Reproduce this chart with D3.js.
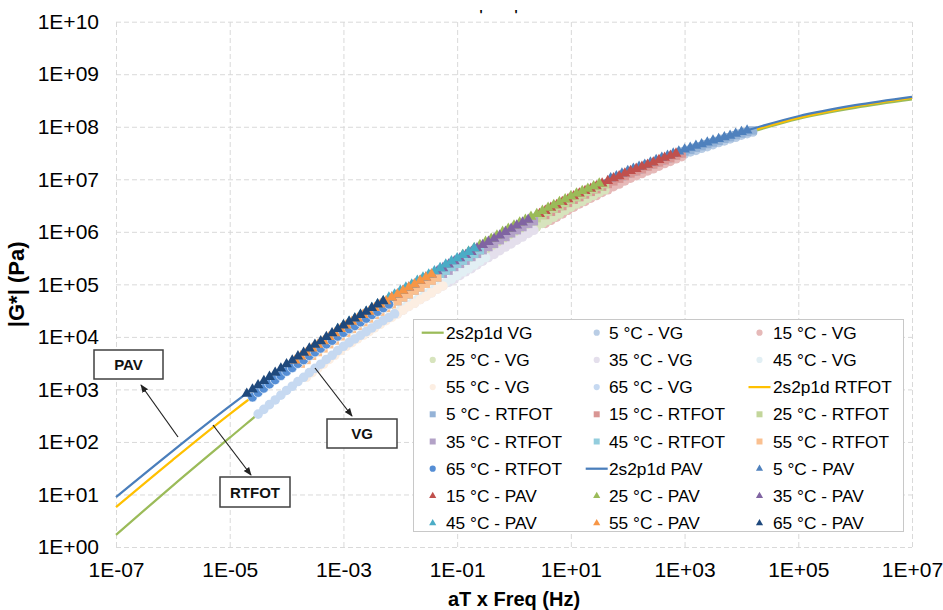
<!DOCTYPE html>
<html><head><meta charset="utf-8">
<script src="https://cdn.jsdelivr.net/npm/d3@7"></script>
<style>
body{margin:0;background:#fff;}
svg{display:block;}
text{font-family:"Liberation Sans",Arial,sans-serif;}
</style>
</head><body>
<svg id="chart" width="943" height="610"></svg>
<script>
// ---------- DATA ----------
const xTickValues = [1e-7, 1e-5, 1e-3, 1e-1, 1e1, 1e3, 1e5, 1e7];
const xTickLabels = ["1E-07","1E-05","1E-03","1E-01","1E+01","1E+03","1E+05","1E+07"];
const yTickValues = [1, 1e1, 1e2, 1e3, 1e4, 1e5, 1e6, 1e7, 1e8, 1e9, 1e10];
const yTickLabels = ["1E+00","1E+01","1E+02","1E+03","1E+04","1E+05","1E+06","1E+07","1E+08","1E+09","1E+10"];

const temps = [5, 15, 25, 35, 45, 55, 65];
// measured frequencies (Hz)
const freqHz = [0.1,0.126,0.158,0.2,0.251,0.316,0.398,0.501,0.631,0.794,1,1.26,1.58,2,2.51,3.16,3.98,5.01,6.31,7.94,10,12.6,15.8,20,25.1];
// log10 shift factors aT per temperature
const logAT_VG    = [2.8, 1.55, 0.2, -1.05, -1.9, -2.65, -3.5];
const logAT_RTFOT = [2.8, 1.55, 0.2, -1.05, -2.0, -2.75, -3.6];
const logAT_PAV   = [2.7, 1.45, 0.1, -1.15, -2.1, -2.85, -3.7];

// 2s2p1d model curves: reduced frequency (Hz) and log10 |G*| (Pa)
const modelFreq = [1e-7,1e-6,1e-5,1e-4,1e-3,1e-2,1e-1,1,1e1,1e2,1e3,1e4,1e5,1e6,1e7];
const modelLogVG    = [0.23,1.17,2.08,2.98,3.82,4.51,5.17,5.84,6.47,7.02,7.48,7.84,8.15,8.36,8.52];
const modelLogRTFOT = [0.76,1.66,2.53,3.34,4.08,4.75,5.39,6.03,6.61,7.11,7.53,7.87,8.17,8.39,8.55];
const modelLogPAV   = [0.95,1.83,2.68,3.48,4.22,4.88,5.50,6.12,6.68,7.16,7.57,7.90,8.20,8.41,8.57];

// measured log10 |G*| (Pa), one row per temperature (5..65 °C)
const logG_VG = [
 [6.91,6.97,7.02,7.07,7.11,7.16,7.20,7.25,7.30,7.34,7.39,7.43,7.48,7.52,7.55,7.59,7.62,7.66,7.70,7.73,7.77,7.80,7.84,7.87,7.90],
 [6.16,6.22,6.28,6.34,6.41,6.47,6.53,6.58,6.64,6.69,6.75,6.80,6.86,6.91,6.97,7.02,7.07,7.11,7.16,7.20,7.25,7.30,7.34,7.39,7.43],
 [5.30,5.37,5.44,5.51,5.57,5.64,5.71,5.77,5.84,5.90,5.97,6.03,6.09,6.16,6.22,6.28,6.34,6.41,6.47,6.53,6.58,6.64,6.69,6.75,6.80],
 [4.44,4.51,4.58,4.64,4.71,4.77,4.84,4.91,4.97,5.04,5.10,5.17,5.24,5.30,5.37,5.44,5.51,5.57,5.64,5.71,5.77,5.84,5.90,5.97,6.03],
 [3.89,3.96,4.03,4.10,4.17,4.24,4.31,4.37,4.44,4.51,4.58,4.64,4.71,4.77,4.84,4.91,4.97,5.04,5.10,5.17,5.24,5.30,5.37,5.44,5.51],
 [3.23,3.32,3.40,3.48,3.57,3.65,3.74,3.82,3.89,3.96,4.03,4.10,4.17,4.24,4.31,4.37,4.44,4.51,4.58,4.64,4.71,4.77,4.84,4.91,4.97],
 [2.53,2.62,2.71,2.80,2.89,2.98,3.06,3.15,3.23,3.32,3.40,3.48,3.57,3.65,3.74,3.82,3.89,3.96,4.03,4.10,4.17,4.24,4.31,4.37,4.44]
];
const logG_RTFOT = [
 [7.01,7.06,7.11,7.15,7.19,7.24,7.28,7.32,7.36,7.40,7.45,7.49,7.53,7.56,7.60,7.63,7.67,7.70,7.73,7.77,7.80,7.84,7.87,7.90,7.93],
 [6.32,6.38,6.44,6.49,6.55,6.61,6.66,6.71,6.76,6.81,6.86,6.91,6.96,7.01,7.06,7.11,7.15,7.19,7.24,7.28,7.32,7.36,7.40,7.45,7.49],
 [5.52,5.58,5.65,5.71,5.77,5.84,5.90,5.97,6.03,6.09,6.15,6.20,6.26,6.32,6.38,6.44,6.49,6.55,6.61,6.66,6.71,6.76,6.81,6.86,6.91],
 [4.68,4.75,4.81,4.88,4.94,5.01,5.07,5.13,5.20,5.26,5.33,5.39,5.45,5.52,5.58,5.65,5.71,5.77,5.84,5.90,5.97,6.03,6.09,6.15,6.20],
 [4.08,4.15,4.21,4.28,4.35,4.42,4.48,4.55,4.62,4.68,4.75,4.81,4.88,4.94,5.01,5.07,5.13,5.20,5.26,5.33,5.39,5.45,5.52,5.58,5.65],
 [3.49,3.56,3.64,3.71,3.78,3.86,3.93,4.01,4.08,4.15,4.21,4.28,4.35,4.42,4.48,4.55,4.62,4.68,4.75,4.81,4.88,4.94,5.01,5.07,5.13],
 [2.85,2.94,3.02,3.10,3.18,3.26,3.34,3.41,3.49,3.56,3.64,3.71,3.78,3.86,3.93,4.01,4.08,4.15,4.21,4.28,4.35,4.42,4.48,4.55,4.62]
];
const logG_PAV = [
 [7.02,7.06,7.11,7.16,7.20,7.24,7.28,7.32,7.37,7.41,7.45,7.49,7.53,7.57,7.60,7.64,7.67,7.70,7.74,7.77,7.80,7.83,7.87,7.90,7.93],
 [6.34,6.40,6.46,6.51,6.57,6.62,6.68,6.73,6.78,6.82,6.87,6.92,6.97,7.02,7.06,7.11,7.16,7.20,7.24,7.28,7.32,7.37,7.41,7.45,7.49],
 [5.56,5.62,5.69,5.75,5.81,5.87,5.93,6.00,6.06,6.12,6.18,6.23,6.29,6.34,6.40,6.46,6.51,6.57,6.62,6.68,6.73,6.78,6.82,6.87,6.92],
 [4.75,4.81,4.88,4.94,5.00,5.07,5.13,5.19,5.25,5.31,5.38,5.44,5.50,5.56,5.62,5.69,5.75,5.81,5.87,5.93,6.00,6.06,6.12,6.18,6.23],
 [4.15,4.22,4.29,4.35,4.42,4.48,4.55,4.62,4.68,4.75,4.81,4.88,4.94,5.00,5.07,5.13,5.19,5.25,5.31,5.38,5.44,5.50,5.56,5.62,5.69],
 [3.55,3.63,3.70,3.78,3.85,3.92,4.00,4.07,4.15,4.22,4.29,4.35,4.42,4.48,4.55,4.62,4.68,4.75,4.81,4.88,4.94,5.00,5.07,5.13,5.19],
 [2.92,3.00,3.08,3.16,3.24,3.32,3.40,3.48,3.55,3.63,3.70,3.78,3.85,3.92,4.00,4.07,4.15,4.22,4.29,4.35,4.42,4.48,4.55,4.62,4.68]
];

const materials = ["VG", "RTFOT", "PAV"];
const annotations = ["PAV", "RTFOT", "VG"];

// ---------- STYLE ----------
const lineColors = {VG:"#9BBB59", RTFOT:"#FFC000", PAV:"#4A7EBB"};
const markerColors = {
  VG:    ["#B9CDE5","#E6B9B8","#D7E4BD","#E4DFEC","#E2EFF4","#FCEEE2","#C6D9F1"],
  RTFOT: ["#95B3D7","#D99694","#C3D69B","#B3A2C7","#93CDDD","#FAC090","#558ED5"],
  PAV:   ["#4F81BD","#C0504D","#9BBB59","#8064A2","#4BACC6","#F79646","#1F497D"]
};
const markerShapes = {
  VG:    temps.map(() => "circle"),
  RTFOT: temps.map((t,i) => i === 6 ? "circle" : "square"),
  PAV:   temps.map(() => "triangle")
};
const symbolType = {circle: d3.symbolCircle, square: d3.symbolSquare, triangle: d3.symbolTriangle};
const plotSize = {circle: 72, square: 70, triangle: 50};
const legSize  = {circle: 30, square: 36, triangle: 22};

// ---------- CHART ----------
const svg = d3.select("#chart");
const L = 116, R = 912, T = 21.7, B = 547;
const x = d3.scaleLog().domain([1e-7, 1e7]).range([L, R]);
const y = d3.scaleLog().domain([1, 1e10]).range([B, T]);

// grid + ticks
const gx = svg.append("g").attr("transform", `translate(0,${B})`)
  .call(d3.axisBottom(x).tickValues(xTickValues).tickFormat((d,i) => xTickLabels[i])
        .tickSize(-(B - T)).tickPadding(15));
const gy = svg.append("g").attr("transform", `translate(${L},0)`)
  .call(d3.axisLeft(y).tickValues(yTickValues).tickFormat((d,i) => yTickLabels[i])
        .tickSize(-(R - L)).tickPadding(17));
[gx, gy].forEach(g => {
  g.select(".domain").remove();
  g.selectAll(".tick line").attr("stroke", "#d9d9d9").attr("stroke-dasharray", "5,3");
  g.selectAll(".tick text").attr("font-size", 21).attr("fill", "#000")
   .attr("font-family", '"Liberation Sans",Arial,sans-serif');
});

// axis titles
svg.append("text").attr("x", (L + R) / 2).attr("y", 606).attr("text-anchor", "middle")
  .attr("font-size", 20).attr("font-weight", "bold").text("aT x Freq (Hz)");
svg.append("text").attr("transform", `translate(24,${(T + B) / 2}) rotate(-90)`)
  .attr("text-anchor", "middle").attr("font-size", 22).attr("font-weight", "bold").text("|G*| (Pa)");
// cropped title fragment
svg.append("text").attr("x", 481).attr("y", 19).attr("text-anchor", "middle")
  .attr("font-size", 13).attr("font-weight", "bold").attr("fill", "#000").text("'");
svg.append("text").attr("x", 516).attr("y", 19).attr("text-anchor", "middle")
  .attr("font-size", 13).attr("font-weight", "bold").attr("fill", "#000").text("'");

const line = d3.line().x(d => x(d[0])).y(d => y(d[1])).curve(d3.curveMonotoneX);
const modelLog = {VG: modelLogVG, RTFOT: modelLogRTFOT, PAV: modelLogPAV};
const logG = {VG: logG_VG, RTFOT: logG_RTFOT, PAV: logG_PAV};
const logAT = {VG: logAT_VG, RTFOT: logAT_RTFOT, PAV: logAT_PAV};

const plot = svg.append("g");
materials.forEach(m => {
  const pts = modelFreq.map((f, i) => [f, Math.pow(10, modelLog[m][i])]);
  plot.append("path").datum(pts).attr("d", line).attr("fill", "none")
    .attr("stroke", lineColors[m]).attr("stroke-width", 2.25);
  temps.forEach((t, j) => {
    const data = freqHz.map((f, i) => [f * Math.pow(10, logAT[m][j]), Math.pow(10, logG[m][j][i])]);
    const shape = markerShapes[m][j];
    const sym = d3.symbol().type(symbolType[shape]).size(plotSize[shape]);
    plot.append("g").selectAll("path").data(data).join("path")
      .attr("transform", d => `translate(${x(d[0])},${y(d[1])})`)
      .attr("d", sym)
      .attr("fill", markerColors[m][j])
      .attr("stroke", m === "RTFOT" && j === 6 ? "#fff" : "none")
      .attr("stroke-width", 0.6);
  });
});

// ---------- LEGEND ----------
const legend = [];
materials.forEach(m => {
  legend.push({type: "line", color: lineColors[m], label: "2s2p1d " + m});
  temps.forEach((t, j) => legend.push({type: markerShapes[m][j], color: markerColors[m][j], label: `${t} °C - ${m}`}));
});
const lg = svg.append("g");
lg.append("rect").attr("x", 413.5).attr("y", 319.5).attr("width", 490).attr("height", 212)
  .attr("fill", "#fff").attr("stroke", "#c8c8c8").attr("stroke-width", 1);
const colMark = [432.7, 596.7, 759.5], colText = [446, 609, 773];
legend.forEach((e, k) => {
  const r = Math.floor(k / 3), c = k % 3;
  const cy = 332.7 + r * 27.2;
  if (e.type === "line") {
    lg.append("line").attr("x1", colMark[c] - 11).attr("x2", colMark[c] + 11)
      .attr("y1", cy).attr("y2", cy).attr("stroke", e.color).attr("stroke-width", 2.25);
  } else {
    lg.append("path").attr("transform", `translate(${colMark[c]},${cy})`)
      .attr("d", d3.symbol().type(symbolType[e.type]).size(legSize[e.type]))
      .attr("fill", e.color);
  }
  lg.append("text").attr("x", colText[c]).attr("y", cy + 6).attr("font-size", 17.3)
    .attr("fill", "#000").text(e.label);
});

// ---------- ANNOTATIONS ----------
svg.append("defs").append("marker").attr("id", "ah").attr("viewBox", "0 0 10 10")
  .attr("refX", 9).attr("refY", 5).attr("markerWidth", 7).attr("markerHeight", 7)
  .attr("orient", "auto-start-reverse").append("path").attr("d", "M0,1 L10,5 L0,9 Z").attr("fill", "#222");
const boxes = [
  {label: annotations[0], x: 94, y: 350, w: 69, h: 29, ax1: 178, ay1: 437, ax2: 141, ay2: 385},
  {label: annotations[1], x: 220, y: 477, w: 70, h: 30, ax1: 213, ay1: 425, ax2: 251, ay2: 475},
  {label: annotations[2], x: 327, y: 419, w: 70, h: 29, ax1: 315, ay1: 368, ax2: 352, ay2: 416}
];
const an = svg.append("g");
boxes.forEach(b => {
  an.append("line").attr("x1", b.ax1).attr("y1", b.ay1).attr("x2", b.ax2).attr("y2", b.ay2)
    .attr("stroke", "#222").attr("stroke-width", 1.2).attr("marker-end", "url(#ah)");
  an.append("rect").attr("x", b.x).attr("y", b.y).attr("width", b.w).attr("height", b.h)
    .attr("fill", "#fff").attr("stroke", "#404040").attr("stroke-width", 1.5);
  an.append("text").attr("x", b.x + b.w / 2).attr("y", b.y + b.h / 2 + 5.5).attr("text-anchor", "middle")
    .attr("font-size", 15).attr("font-weight", "bold").attr("fill", "#111").text(b.label);
});
</script>
</body></html>
